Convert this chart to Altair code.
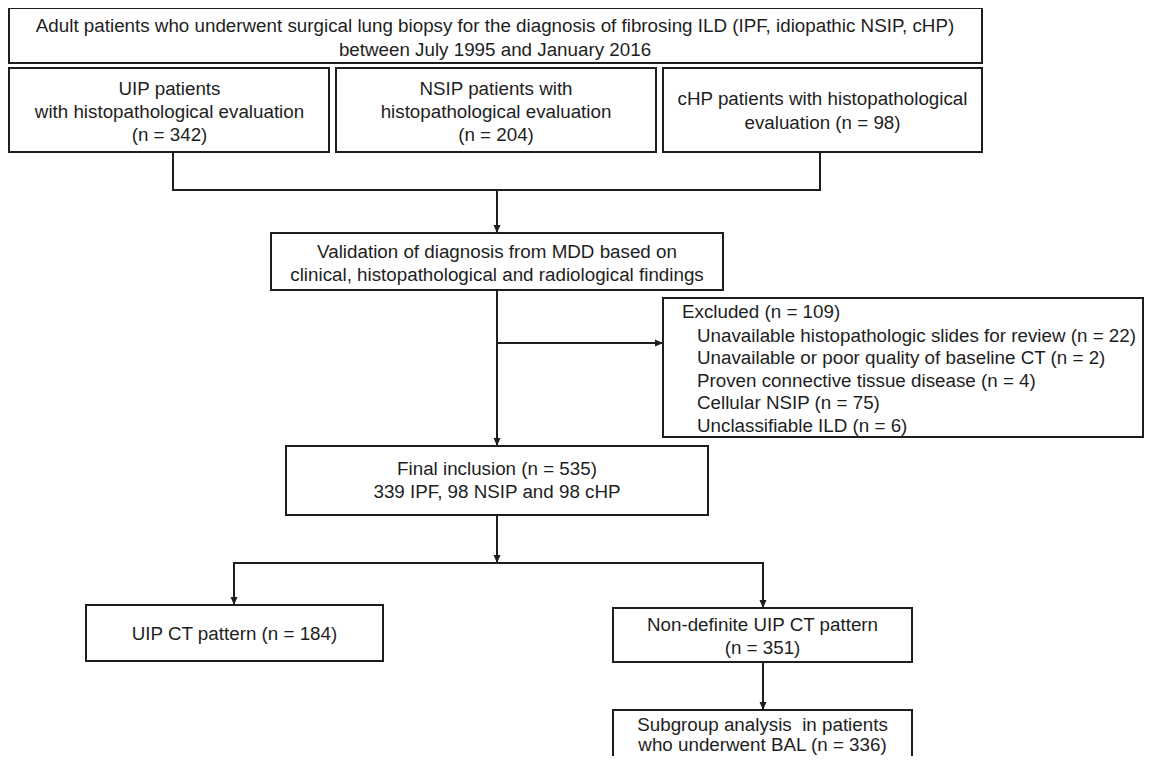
import altair as alt
import pandas as pd

# ---- boxes (flowchart layout, in page pixels) ----
box_x1 = [9, 9, 336, 663, 271, 663, 286, 86, 613, 613]
box_x2 = [982, 329, 656, 982, 723, 1143, 708, 383, 912, 912]
box_y1 = [8, 68, 68, 68, 233, 298, 446, 605, 608, 710]
box_y2 = [63, 152, 152, 152, 290, 437, 515, 661, 662, 800]

# ---- centred labels (y = first line) ----
center_text = [
    "Adult patients who underwent surgical lung biopsy for the diagnosis of fibrosing ILD (IPF, idiopathic NSIP, cHP)\nbetween July 1995 and January 2016",
    "UIP patients\nwith histopathological evaluation\n(n = 342)",
    "NSIP patients with\nhistopathological evaluation\n(n = 204)",
    "cHP patients with histopathological\nevaluation (n = 98)",
    "Validation of diagnosis from MDD based on\nclinical, histopathological and radiological findings",
    "Final inclusion (n = 535)\n339 IPF, 98 NSIP and 98 cHP",
    "UIP CT pattern (n = 184)",
    "Non-definite UIP CT pattern\n(n = 351)",
]
center_x = [495, 169.5, 496, 822.5, 497, 497, 234.5, 762.5]
center_y = [25.5, 89, 89, 99, 252, 469, 634, 625]
center_lh = [24.5, 23, 23, 23.5, 23, 23, 23, 22.5]

# last box, cut by the bottom edge in the original
sub_text = "Subgroup analysis \u00a0in patients\nwho underwent BAL (n = 336)"
sub_x = 762.5
sub_y = 725

# ---- left-aligned labels (exclusion box) ----
left_text = [
    "Excluded (n = 109)",
    "Unavailable histopathologic slides for review (n = 22)",
    "Unavailable or poor quality of baseline CT (n = 2)",
    "Proven connective tissue disease (n = 4)",
    "Cellular NSIP (n = 75)",
    "Unclassifiable ILD (n = 6)",
]
left_x = [682, 697, 697, 697, 697, 697]
left_y = [312, 335.5, 358, 380.5, 403, 425.5]

# ---- connector segments ----
seg_x1 = [173, 820, 173, 497, 497, 497, 497, 234, 234, 763, 763]
seg_y1 = [152, 152, 190, 190, 290, 343, 515, 563, 563, 563, 662]
seg_x2 = [173, 820, 820, 497, 497, 663, 497, 763, 234, 763, 763]
seg_y2 = [190, 190, 190, 233, 446, 343, 563, 563, 605, 608, 710]

# ---- arrow heads (tip positions) ----
arrow_x = [497, 497, 663, 497, 234, 763, 763]
arrow_y = [233, 446, 343, 563, 605, 608, 710]
arrow_dir = ["down", "down", "right", "down", "down", "down", "down"]

INK = "#1e1e1e"
FONT = "Liberation Sans"
FS = 18.8

xs = alt.Scale(domain=[8, 1145], nice=False, zero=False)
ys = alt.Scale(domain=[8, 756], nice=False, zero=False, reverse=True)

boxes = pd.DataFrame({"x1": box_x1, "x2": box_x2, "y1": box_y1, "y2": box_y2})
segs = pd.DataFrame({"x1": seg_x1, "y1": seg_y1, "x2": seg_x2, "y2": seg_y2})
arrows = pd.DataFrame({"x": arrow_x, "y": arrow_y, "d": arrow_dir})
ltext = pd.DataFrame({"t": left_text, "x": left_x, "y": left_y})

X = lambda f: alt.X(f, type="quantitative", scale=xs, axis=None)
Y = lambda f: alt.Y(f, type="quantitative", scale=ys, axis=None)

rects = alt.Chart(boxes).mark_rect(
    fill="white", stroke=INK, strokeWidth=2, clip=True
).encode(x=X("x1"), x2="x2", y=Y("y1"), y2="y2")

rules = alt.Chart(segs).mark_rule(
    color=INK, strokeWidth=2, strokeCap="square"
).encode(x=X("x1"), x2="x2", y=Y("y1"), y2="y2")

down_heads = alt.Chart(arrows).transform_filter(alt.datum.d == "down").mark_point(
    shape="M-0.44,-1L0.44,-1L0,0Z", size=256, filled=True, fill=INK, opacity=1, strokeWidth=0
).encode(x=X("x"), y=Y("y"))

right_heads = alt.Chart(arrows).transform_filter(alt.datum.d == "right").mark_point(
    shape="M-1,-0.44L-1,0.44L0,0Z", size=256, filled=True, fill=INK, opacity=1, strokeWidth=0
).encode(x=X("x"), y=Y("y"))

text_layers = []
for t, x, y, lh in zip(center_text, center_x, center_y, center_lh):
    df = pd.DataFrame({"t": [t], "x": [x], "y": [y]})
    text_layers.append(
        alt.Chart(df).mark_text(
            font=FONT, fontSize=FS, color=INK, align="center", baseline="middle",
            lineBreak="\n", lineHeight=lh
        ).encode(x=X("x"), y=Y("y"), text="t:N")
    )

sub_df = pd.DataFrame({"t": [sub_text], "x": [sub_x], "y": [sub_y]})
text_layers.append(
    alt.Chart(sub_df).mark_text(
        font=FONT, fontSize=FS, color=INK, align="center", baseline="middle",
        lineBreak="\n", lineHeight=19.5
    ).encode(x=X("x"), y=Y("y"), text="t:N")
)

ltexts = alt.Chart(ltext).mark_text(
    font=FONT, fontSize=FS, color=INK, align="left", baseline="middle"
).encode(x=X("x"), y=Y("y"), text="t:N")

chart = alt.layer(rules, rects, down_heads, right_heads, *text_layers, ltexts).properties(
    width=1137, height=748, padding=0, autosize=alt.AutoSizeParams(type="none")
).configure_view(stroke=None)

chart.save("out.html", embed_options={"renderer": "svg", "actions": False})
